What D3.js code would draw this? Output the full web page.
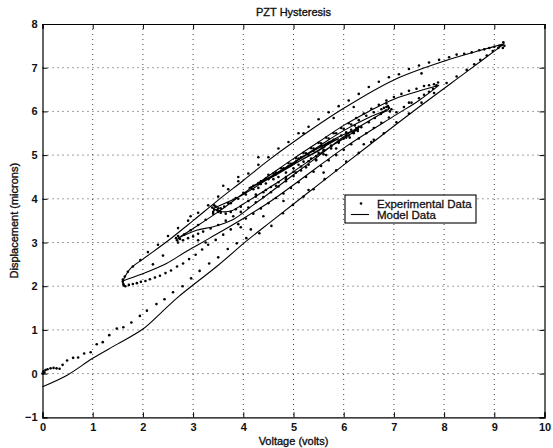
<!DOCTYPE html>
<html>
<head>
<meta charset="utf-8">
<script src="https://cdn.jsdelivr.net/npm/d3@7"></script>
<style>
  body { margin: 0; background: #fff; }
  svg text { font-family: "Liberation Sans", Arial, sans-serif; fill: #111; }
</style>
</head>
<body>
<svg id="chart" width="553" height="448"></svg>
<script>
// Axis ticks
const xTicks = [0, 1, 2, 3, 4, 5, 6, 7, 8, 9, 10];
const yTicks = [-1, 0, 1, 2, 3, 4, 5, 6, 7, 8];

// Model data, one array per branch of the hysteresis path [volts, microns]
const modelRise0 = [[0,-0.3],[0.5,-0.03],[1,0.35],[1.5,0.68],[2,1.02],[2.35,1.38],[2.7,1.75],[3.5,2.48],[4.06,3.03],[4.52,3.45],[5.58,4.4],[6.5,5.22],[7.5,6.1],[8.5,6.95],[9.2,7.55]];
const modelFall1 = [[9.2,7.55],[8.8,7.42],[8.0,7.15],[7.0,6.72],[6.0,6.07],[5.0,5.3],[4.5,4.88],[4.0,4.42],[3.5,3.97],[3.0,3.5],[2.5,3.04],[2.0,2.62],[1.75,2.4],[1.6,2.12]];
const modelRise1 = [[1.6,2.12],[1.94,2.26],[2.47,2.52],[2.87,2.8],[3.33,3.1],[4.0,3.55],[4.59,3.98],[5.12,4.42],[6.05,5.2],[7.04,5.92],[7.5,6.25],[7.9,6.6]];
const modelFall2 = [[7.9,6.6],[7.6,6.5],[7.0,6.28],[6.5,6.0],[6.0,5.68],[5.5,5.3],[5.0,4.92],[4.5,4.52],[4.0,4.12],[3.5,3.7],[3.0,3.32],[2.7,3.1]];
const modelRise2 = [[2.7,3.1],[3.07,3.28],[3.4,3.36],[3.79,3.52],[4.2,3.86],[4.6,4.2],[5.0,4.55],[5.5,4.98],[6.0,5.42],[6.5,5.78],[6.9,6.05]];
const modelFall3 = [[6.9,6.05],[6.5,5.86],[6.0,5.56],[5.5,5.2],[5.0,4.83],[4.5,4.46],[4.0,4.1],[3.6,3.88],[3.4,3.78]];
const modelRise3 = [[3.4,3.78],[3.55,3.71],[3.75,3.72],[4.0,3.88],[4.5,4.24],[5.0,4.62],[5.5,5.02],[6.0,5.38],[6.3,5.6]];
const modelFall4 = [[6.3,5.6],[6.0,5.47],[5.5,5.17],[5.0,4.83],[4.5,4.48],[4.1,4.24]];
const modelRise4 = [[4.1,4.24],[4.5,4.45],[5.0,4.78],[5.5,5.12],[5.9,5.38]];
const modelFall5 = [[5.9,5.38],[5.5,5.16],[5.0,4.82],[4.6,4.55]];
const modelRise5 = [[4.6,4.55],[5.0,4.79],[5.5,5.1],[5.65,5.2]];

// Experimental data, grouped by the branch they were sampled on
const expRise0 = [[0,0],[0.02,0.05],[0.04,0.02],[0.06,0.08],[0.1,0.1],[0.16,0.12],[0.22,0.13],[0.28,0.12],[0.34,0.11],[0.4,0.2],[0.49,0.3],[0.61,0.36],[0.71,0.37],[0.83,0.46],[0.96,0.49],[1.08,0.67],[1.2,0.72],[1.33,0.88],[1.48,1.03],[1.61,1.06],[1.77,1.17],[1.94,1.32],[2.08,1.44],[2.27,1.59],[2.43,1.7],[2.6,1.86],[2.79,2.0],[2.96,2.18],[3.13,2.35],[3.32,2.52],[3.5,2.66],[3.69,2.85],[3.87,2.98],[4.06,3.1],[4.32,3.21],[4.56,3.38],[4.79,3.67],[4.99,3.86],[5.2,4.05],[5.4,4.22],[5.62,4.45],[5.85,4.65],[6.05,4.85],[6.3,5.05],[6.55,5.3],[6.8,5.5],[7.05,5.75],[7.3,5.95],[7.55,6.2],[7.8,6.42],[8.05,6.65],[8.25,6.8],[8.45,6.95],[8.6,7.08],[8.72,7.18],[8.85,7.28],[8.97,7.38],[9.08,7.45],[9.15,7.52],[9.18,7.58],[9.2,7.5],[9.17,7.45]];
const expFall1 = [[9.1,7.5],[9.0,7.48],[8.9,7.45],[8.8,7.42],[8.7,7.4],[8.55,7.35],[8.4,7.32],[8.25,7.3],[8.1,7.24],[7.9,7.18],[7.7,7.12],[7.5,7.05],[7.3,6.97],[7.1,6.85],[6.9,6.78],[6.7,6.68],[6.5,6.56],[6.3,6.4],[6.1,6.25],[5.9,6.12],[5.7,5.98],[5.5,5.82],[5.3,5.65],[5.1,5.5],[4.9,5.3],[4.7,5.15],[4.5,4.95],[4.3,4.78],[4.1,4.58],[3.9,4.4],[3.7,4.22],[3.5,4.05],[3.3,3.85],[3.1,3.68],[2.9,3.5],[2.7,3.33],[2.5,3.15],[2.3,2.95],[2.1,2.78],[1.95,2.6],[1.8,2.45],[1.7,2.33],[1.64,2.22],[1.6,2.15],[1.6,2.1],[1.61,2.05],[1.62,2.02]];
const expRise1 = [[1.65,2.0],[1.72,2.03],[1.8,2.05],[1.88,2.07],[1.96,2.1],[2.05,2.12],[2.14,2.16],[2.24,2.2],[2.34,2.24],[2.45,2.3],[2.56,2.36],[2.68,2.45],[2.8,2.52],[2.92,2.62],[3.05,2.72],[3.18,2.84],[3.3,2.95],[3.45,3.06],[3.6,3.18],[3.75,3.3],[3.9,3.42],[4.05,3.55],[4.2,3.66],[4.35,3.78],[4.5,3.9],[4.65,4.02],[4.8,4.12],[4.95,4.25],[5.1,4.38],[5.25,4.5],[5.4,4.62],[5.55,4.75],[5.7,4.88],[5.85,5.0],[6.0,5.12],[6.15,5.25],[6.3,5.38],[6.45,5.5],[6.6,5.62],[6.75,5.74],[6.9,5.86],[7.05,5.98],[7.2,6.1],[7.35,6.2],[7.5,6.3],[7.6,6.38],[7.7,6.45],[7.78,6.52],[7.85,6.6],[7.88,6.66]];
const expFall2 = [[7.8,6.62],[7.7,6.6],[7.6,6.58],[7.45,6.52],[7.3,6.47],[7.15,6.4],[7.0,6.33],[6.85,6.25],[6.7,6.15],[6.55,6.06],[6.4,5.95],[6.25,5.85],[6.1,5.73],[5.95,5.62],[5.8,5.5],[5.65,5.4],[5.5,5.28],[5.35,5.16],[5.2,5.05],[5.05,4.93],[4.9,4.82],[4.75,4.7],[4.6,4.58],[4.45,4.47],[4.3,4.36],[4.15,4.25],[4.0,4.14],[3.85,4.02],[3.7,3.9],[3.55,3.78],[3.4,3.66],[3.25,3.52],[3.1,3.4],[2.95,3.28],[2.82,3.18],[2.72,3.1],[2.68,3.05],[2.7,3.0],[2.66,3.1],[2.7,3.15],[2.74,3.08]];
const expRise2 = [[2.8,3.05],[2.9,3.1],[3.0,3.14],[3.1,3.2],[3.2,3.25],[3.35,3.32],[3.5,3.4],[3.65,3.5],[3.8,3.6],[3.95,3.7],[4.1,3.8],[4.25,3.92],[4.4,4.04],[4.55,4.15],[4.7,4.28],[4.85,4.4],[5.0,4.52],[5.15,4.65],[5.3,4.78],[5.45,4.9],[5.6,5.02],[5.75,5.15],[5.9,5.28],[6.05,5.4],[6.2,5.52],[6.35,5.64],[6.5,5.75],[6.62,5.85],[6.74,5.94],[6.84,6.02],[6.9,6.08],[6.88,6.12],[6.92,6.0],[6.85,6.1],[6.95,6.05],[6.8,6.08]];
const expFall3 = [[6.75,6.05],[6.6,5.98],[6.45,5.9],[6.3,5.8],[6.15,5.7],[6.0,5.6],[5.85,5.5],[5.7,5.38],[5.55,5.27],[5.4,5.15],[5.25,5.04],[5.1,4.92],[4.95,4.8],[4.8,4.68],[4.65,4.56],[4.5,4.45],[4.35,4.34],[4.2,4.22],[4.05,4.1],[3.9,4.0],[3.75,3.9],[3.62,3.82],[3.5,3.78],[3.42,3.75],[3.4,3.7],[3.45,3.82],[3.48,3.74],[3.38,3.8],[3.5,3.7],[3.42,3.85]];
const expRise3 = [[3.55,3.68],[3.65,3.66],[3.75,3.7],[3.85,3.76],[3.95,3.82],[4.1,3.95],[4.25,4.05],[4.4,4.15],[4.55,4.27],[4.7,4.38],[4.85,4.5],[5.0,4.62],[5.15,4.74],[5.3,4.86],[5.45,4.98],[5.6,5.1],[5.75,5.22],[5.9,5.33],[6.05,5.44],[6.18,5.52],[6.28,5.6]];
const expCenter = [[4.2,4.3],[4.3,4.25],[4.35,4.4],[4.45,4.35],[4.5,4.55],[4.6,4.45],[4.65,4.6],[4.7,4.5],[4.8,4.7],[4.85,4.6],[4.9,4.75],[5.0,4.7],[5.05,4.85],[5.1,4.78],[5.15,4.95],[5.2,4.85],[5.3,5.0],[5.35,4.92],[5.4,5.1],[5.5,5.05],[5.55,5.2],[5.6,5.12],[5.7,5.28],[5.75,5.2],[5.8,5.35],[5.9,5.3],[5.95,5.45],[6.0,5.38],[6.05,5.52],[6.1,5.45],[6.15,5.58],[6.2,5.5],[6.25,5.62],[6.28,5.55],[6.3,5.65],[6.22,5.68],[6.12,5.4],[5.85,5.15],[5.65,5.0],[5.45,4.88],[5.25,4.72],[5.05,4.6],[4.85,4.45],[4.65,4.3],[4.45,4.2],[4.25,4.1]];
const expStray = [[3.9,4.5],[4.3,4.95],[5.2,5.5],[3.6,4.3],[4.8,3.95],[5.3,4.2],[4.4,3.6],[3.95,3.35],[4.15,3.3],[5.6,4.6],[6.4,5.25],[6.6,5.35],[7.3,6.2],[7.55,6.87],[6.85,6.18],[6.2,6.1],[5.8,5.85],[2.95,3.6],[3.1,3.05],[3.25,3.0],[2.4,2.7],[2.2,2.5]];

const legendLabels = ['Experimental Data', 'Model Data'];

/**
 * Draw the PZT hysteresis chart
 */
function drawChart() {
  const svg = d3.select('#chart');
  const plot = { left: 42.5, right: 544.5, top: 24, bottom: 417.3 };

  const x = d3.scaleLinear().domain([0, 10]).range([plot.left, plot.right]);
  const y = d3.scaleLinear().domain([-1, 8]).range([plot.bottom, plot.top]);

  // Dotted grid
  const grid = svg.append('g')
    .attr('stroke', '#444')
    .attr('stroke-width', 1)
    .attr('stroke-dasharray', '1,4');
  grid.selectAll('.vgrid')
    .data(xTicks.slice(1, -1))
    .enter()
    .append('line')
    .attr('x1', d => x(d)).attr('x2', d => x(d))
    .attr('y1', plot.top).attr('y2', plot.bottom);
  grid.selectAll('.hgrid')
    .data(yTicks.slice(1, -1))
    .enter()
    .append('line')
    .attr('y1', d => y(d)).attr('y2', d => y(d))
    .attr('x1', plot.left).attr('x2', plot.right);

  // Axes, ticks pointing inward on all four sides
  const tickLen = 5;
  const bottomAxis = svg.append('g')
    .attr('transform', `translate(0,${plot.bottom})`)
    .call(d3.axisBottom(x).tickValues(xTicks).tickSize(-tickLen).tickPadding(6).tickFormat(d3.format('d')));
  const topAxis = svg.append('g')
    .attr('transform', `translate(0,${plot.top})`)
    .call(d3.axisTop(x).tickValues(xTicks).tickSize(-tickLen).tickFormat(''));
  const leftAxis = svg.append('g')
    .attr('transform', `translate(${plot.left},0)`)
    .call(d3.axisLeft(y).tickValues(yTicks).tickSize(-tickLen).tickPadding(5).tickFormat(d3.format('d')));
  const rightAxis = svg.append('g')
    .attr('transform', `translate(${plot.right},0)`)
    .call(d3.axisRight(y).tickValues(yTicks).tickSize(-tickLen).tickFormat(''));

  [bottomAxis, topAxis, leftAxis, rightAxis].forEach(axis => {
    axis.select('.domain').attr('stroke', '#000').attr('stroke-width', 1.2);
    axis.selectAll('.tick line').attr('stroke', '#000');
    axis.selectAll('text')
      .attr('font-size', '11px')
      .attr('font-weight', 'bold')
      .attr('font-family', '"Liberation Sans", Arial, sans-serif')
      .attr('fill', '#111');
  });

  // Model data as one continuous line
  const modelPath = [].concat(modelRise0, modelFall1, modelRise1, modelFall2, modelRise2,
    modelFall3, modelRise3, modelFall4, modelRise4, modelFall5, modelRise5);
  const line = d3.line()
    .x(d => x(d[0]))
    .y(d => y(d[1]))
    .curve(d3.curveCatmullRom.alpha(0.5));
  svg.append('path')
    .datum(modelPath)
    .attr('fill', 'none')
    .attr('stroke', '#000')
    .attr('stroke-width', 1.1)
    .attr('d', line);

  // Experimental points
  const expPoints = [].concat(expRise0, expFall1, expRise1, expFall2, expRise2,
    expFall3, expRise3, expCenter, expStray);
  svg.append('g')
    .selectAll('circle')
    .data(expPoints)
    .enter()
    .append('circle')
    .attr('cx', d => x(d[0]))
    .attr('cy', d => y(d[1]))
    .attr('r', 1.3)
    .attr('fill', '#000');

  // Title and axis labels (thin stroke to match the heavy scanned text)
  const labelStyle = sel => sel
    .attr('text-anchor', 'middle')
    .attr('font-size', '11px')
    .attr('stroke', '#111')
    .attr('stroke-width', 0.35);
  svg.append('text')
    .attr('x', (plot.left + plot.right) / 2)
    .attr('y', 16)
    .call(labelStyle)
    .text('PZT Hysteresis');
  svg.append('text')
    .attr('x', (plot.left + plot.right) / 2)
    .attr('y', 445)
    .call(labelStyle)
    .text('Voltage (volts)');
  svg.append('text')
    .attr('transform', `translate(18,${(plot.top + plot.bottom) / 2}) rotate(-90)`)
    .call(labelStyle)
    .text('Displacement (microns)');

  // Legend
  const legend = svg.append('g').attr('transform', 'translate(345,195)');
  legend.append('rect')
    .attr('width', 131)
    .attr('height', 28)
    .attr('fill', '#fff')
    .attr('stroke', '#000')
    .attr('stroke-width', 1.1);
  legend.append('circle')
    .attr('cx', 16).attr('cy', 8.5).attr('r', 1.3)
    .attr('fill', '#000');
  legend.append('line')
    .attr('x1', 6).attr('x2', 24)
    .attr('y1', 19.5).attr('y2', 19.5)
    .attr('stroke', '#000')
    .attr('stroke-width', 1.1);
  legend.selectAll('.legend-label')
    .data(legendLabels)
    .enter()
    .append('text')
    .attr('class', 'legend-label')
    .attr('x', 32)
    .attr('y', (d, i) => 12.5 + i * 11)
    .attr('font-size', '11.5px')
    .attr('stroke', '#111')
    .attr('stroke-width', 0.3)
    .text(d => d);
}

drawChart();
</script>
</body>
</html>
